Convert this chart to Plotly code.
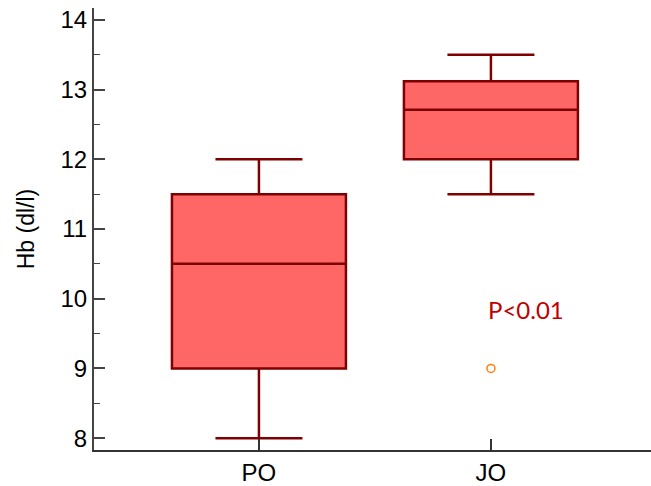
import plotly.graph_objects as go

categories = ["PO", "JO"]
lower_whisker = [8.0, 11.5]
q1_values = [9.0, 12.0]
median_values = [10.5, 12.71]
q3_values = [11.5, 13.12]
upper_whisker = [12.0, 13.5]
outlier_cats = ["JO"]
outlier_values = [9.0]
y_tick_vals = [8, 9, 10, 11, 12, 13, 14]

fig = go.Figure()
fig.add_trace(go.Box(
    x=categories,
    q1=q1_values, median=median_values, q3=q3_values,
    lowerfence=lower_whisker, upperfence=upper_whisker,
    fillcolor="#FF6666",
    line=dict(color="#7F0000", width=2.5),
    width=0.75, whiskerwidth=0.5,
    boxpoints=False, showlegend=False, hoverinfo="skip",
))
fig.add_trace(go.Scatter(
    x=outlier_cats, y=outlier_values, mode="markers",
    marker=dict(symbol="circle-open", size=8, color="#FF7F0E", line=dict(width=1.5)),
    showlegend=False, hoverinfo="skip",
))
fig.add_annotation(x=1.15, y=9.85, text="P<0.01", showarrow=False,
                   font=dict(family="Lato, Open Sans, sans-serif", size=24, color="#C00000"))

fig.update_layout(
    width=651, height=486,
    margin=dict(l=94, r=0, t=8, b=32),
    plot_bgcolor="white", paper_bgcolor="white",
    font=dict(family="Liberation Sans, Arial, sans-serif", color="black"),
)
fig.update_xaxes(
    type="category", range=[-0.711, 1.69],
    showline=True, linecolor="#333333", linewidth=2,
    ticks="inside", ticklen=11, tickcolor="#333333", tickwidth=1.5,
    tickfont=dict(size=24), showgrid=False, zeroline=False,
)
fig.update_yaxes(
    range=[7.83, 14.17], tickvals=y_tick_vals,
    showline=True, linecolor="#444444", linewidth=2,
    ticks="inside", ticklen=11, tickcolor="#444444", tickwidth=1.5,
    minor=dict(dtick=0.5, ticks="inside", ticklen=6, tickcolor="#444444", tickwidth=1.2),
    tickfont=dict(size=24), ticklabelstandoff=0, ticklabeloverflow="allow",
    showgrid=False, zeroline=False,
    title=dict(text="Hb (dl/l)", font=dict(size=23), standoff=19),
)
# remove the default 8px body margin so the figure fills the window exactly
fig.write_html("out.html", config={"displayModeBar": False},
               post_script="document.body.style.margin='0px';")
